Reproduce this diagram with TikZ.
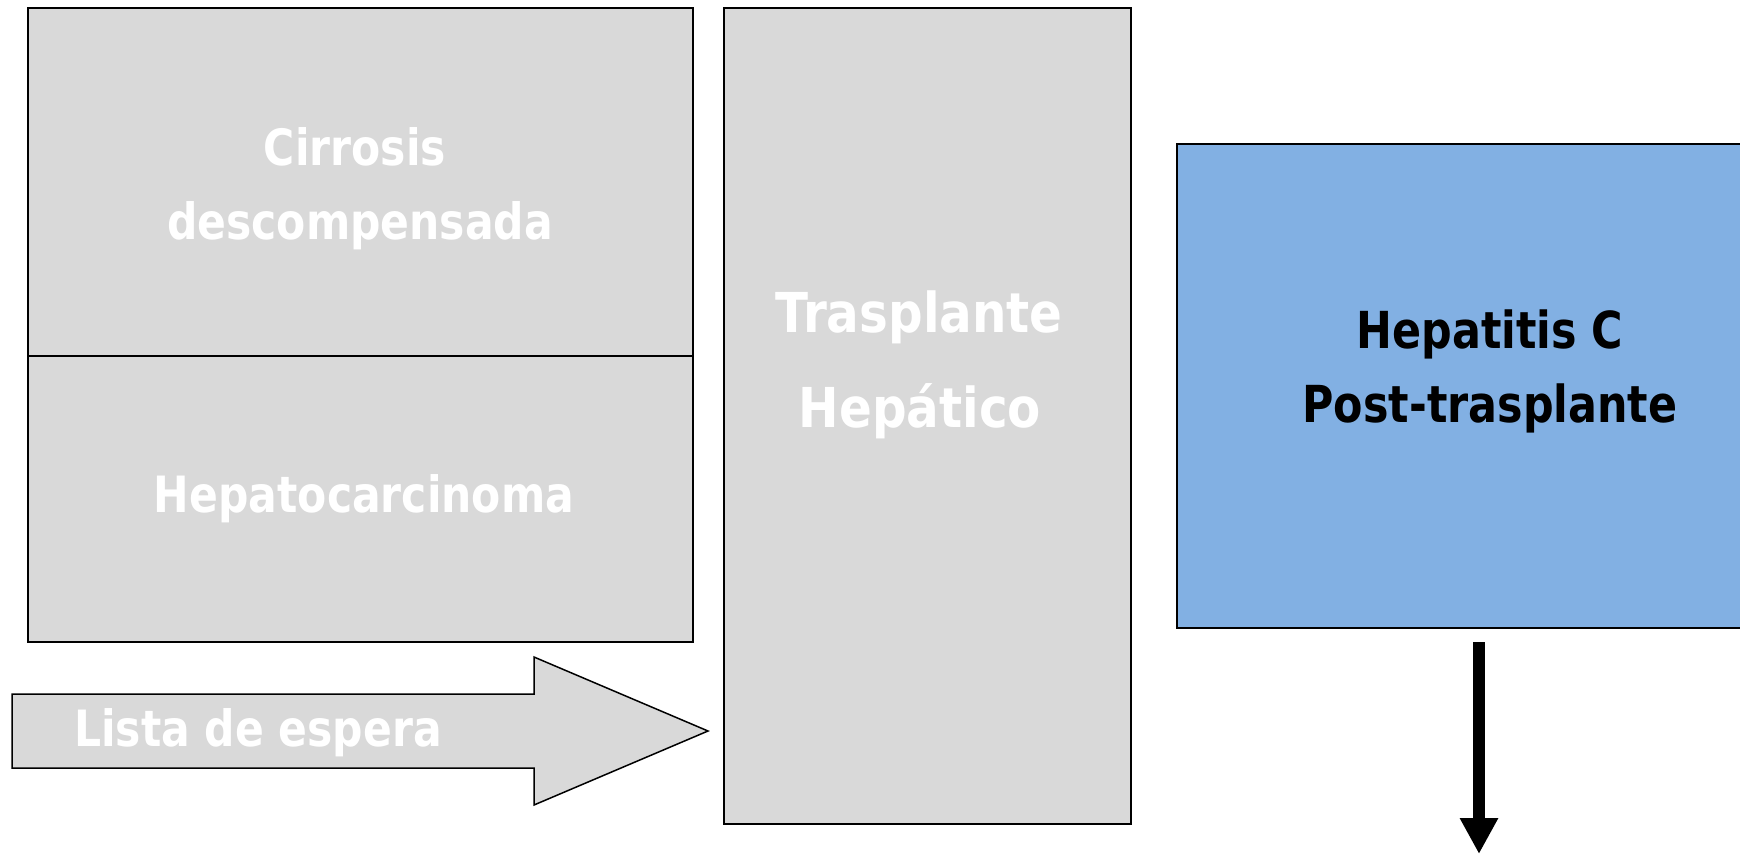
\documentclass[tikz,border=0pt]{standalone}
\usepackage{fontspec}
\setmainfont{DejaVu Sans}
\newfontfamily\narrowbold{DejaVu Sans}[FakeStretch=0.85]
\newfontfamily\trasbold{DejaVu Sans}[FakeStretch=0.88]
\newfontfamily\hcvbold{DejaVu Sans}[FakeStretch=0.84]
\usetikzlibrary{arrows.meta}
\definecolor{boxgray}{HTML}{D9D9D9}
\definecolor{boxblue}{HTML}{82B0E3}
\tikzset{
  graybox/.style={draw=black, line width=1.5pt, fill=boxgray, inner sep=0pt},
  bluebox/.style={draw=black, line width=1.5pt, fill=boxblue, inner sep=0pt},
  whitetxt/.style={text=white, anchor=base, inner sep=0pt, font=\narrowbold\bfseries\fontsize{50}{60}\selectfont},
  bigwhite/.style={text=white, anchor=base, inner sep=0pt, font=\trasbold\bfseries\fontsize{55}{66}\selectfont},
  blacktxt/.style={text=black, anchor=base, inner sep=0pt, font=\hcvbold\bfseries\fontsize{51}{61}\selectfont},
  bigarrow/.style={line width=12pt, -{Triangle[width=36pt,length=36pt]}}
}
\begin{document}
\begin{tikzpicture}[x=1pt,y=-1pt]
\useasboundingbox (0,0) rectangle (1740,854);
\clip (0,0) rectangle (1740,854);
% boxes
\node[graybox, anchor=north west, minimum width=665pt, minimum height=348pt] (cirr) at (27,7) {};
\node[graybox, anchor=north west, minimum width=665pt, minimum height=286pt] (hcc) at (27,355) {};
\node[graybox, anchor=north west, minimum width=407pt, minimum height=816pt] (tx) at (723,7) {};
\node[bluebox, anchor=north west, minimum width=628pt, minimum height=484pt] (hcv) at (1176,143) {};
% block arrow
\filldraw[draw=black, line width=1.5pt, fill=boxgray]
  (12,694) -- (534,694) -- (534,657) -- (708,731) -- (534,805) -- (534,768) -- (12,768) -- cycle;
% texts
\node[whitetxt] (t1) at (355,165) {Cirrosis};
\node[whitetxt] (t2) at (360,239) {descompensada};
\node[whitetxt] (t3) at (364,512) {Hepatocarcinoma};
\node[whitetxt] (t4) at (258,746) {Lista de espera};
\node[bigwhite] (t5) at (919,332) {Trasplante};
\node[bigwhite] (t6) at (920,427) {Hepático};
\node[blacktxt] (t7) at (1490,348) {Hepatitis C};
\node[blacktxt] (t8) at (1490,422) {Post-trasplante};
% down arrow
\coordinate (dstart) at (1479,642);
\coordinate (dend) at (1479,854);
\draw[bigarrow] (dstart) -- (dend);
\end{tikzpicture}
\end{document}
